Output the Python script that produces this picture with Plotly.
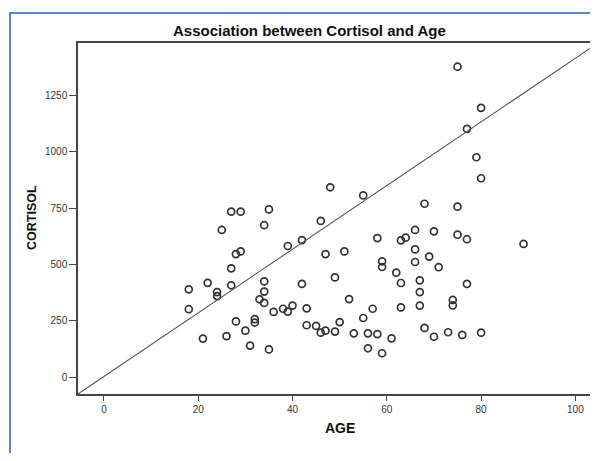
import plotly.graph_objects as go

# Data (AGE vs CORTISOL)
age = [48, 75, 80, 77, 79, 80, 55, 68, 75, 27, 29, 35, 25, 34, 46, 28, 29, 39, 42, 47,
       51, 27, 18, 22, 27, 24, 24, 34, 34, 33, 34, 42, 49, 52, 18, 28, 32, 32, 30, 36,
       38, 39, 40, 43, 43, 45, 46, 47, 49, 50, 21, 26, 31, 35, 58, 63, 64, 66, 70, 75,
       77, 89, 66, 69, 59, 59, 66, 71, 62, 63, 67, 67, 77, 57, 55, 63, 67, 74, 74, 53,
       56, 58, 61, 56, 59, 68, 70, 73, 76, 80]
cortisol = [842, 1376, 1194, 1101, 975, 882, 806, 769, 756, 734, 734, 744, 653, 674, 693,
            546, 558, 582, 608, 546, 558, 483, 390, 419, 408, 378, 360, 425, 380, 346,
            330, 414, 443, 347, 302, 248, 258, 243, 207, 290, 304, 291, 318, 306, 231,
            228, 198, 207, 203, 245, 172, 183, 141, 124, 617, 607, 619, 653, 647, 632,
            612, 591, 567, 535, 514, 489, 511, 488, 464, 418, 430, 378, 414, 304, 263,
            310, 318, 343, 319, 195, 195, 192, 173, 129, 107, 219, 180, 200, 188, 198]

x_ticks = [0, 20, 40, 60, 80, 100]
y_ticks = [0, 250, 500, 750, 1000, 1250]

title_text = "Association between Cortisol and Age"
x_title = "AGE"
y_title = "CORTISOL"

# page body has an 8px margin; keep the figure inside the viewport
OFF = 8
W, H = 598 - 2 * OFF, 461 - 2 * OFF
ML, MR, MT, MB = 78 - OFF, 0, 43 - OFF, H - (394 - OFF)
PW, PH = W - ML - MR, H - MT - MB

X_RANGE = [-5.5, 103.1]
Y_RANGE = [-73.5, 1481]
# diagonal reference line runs corner-to-corner of the full frame (x up to ~104.8)
X_FULL = 104.8
diag_x1 = X_RANGE[1]
diag_y1 = Y_RANGE[0] + (diag_x1 - X_RANGE[0]) * (Y_RANGE[1] - Y_RANGE[0]) / (X_FULL - X_RANGE[0])


def px(xp):
    return (xp - OFF - ML) / PW


def py(yp):
    return (H - MB - (yp - OFF)) / PH


fig = go.Figure()
fig.add_trace(go.Scatter(
    x=age, y=cortisol, mode="markers",
    marker=dict(symbol="circle-open", size=7, color="#333333",
                line=dict(width=1.7, color="#333333")),
    hoverinfo="x+y", showlegend=False,
))

fig.update_layout(
    width=W, height=H,
    margin=dict(l=ML, r=MR, t=MT, b=MB),
    paper_bgcolor="white", plot_bgcolor="white",
    font=dict(family="Liberation Sans, Arial, sans-serif", color="#222222"),
    xaxis=dict(range=X_RANGE, tickvals=x_ticks, ticks="outside", ticklen=5,
               tickcolor="#444444", tickwidth=1.3, showline=True, linecolor="#444444",
               linewidth=1.5, mirror=True, showgrid=False, zeroline=False,
               tickfont=dict(size=10, color="#333333")),
    yaxis=dict(range=Y_RANGE, tickvals=y_ticks, ticks="outside", ticklen=7,
               tickcolor="#444444", tickwidth=1.3, showline=True, linecolor="#444444",
               linewidth=1.5, mirror=False, showgrid=False, zeroline=False,
               tickfont=dict(size=10, color="#333333")),
    shapes=[
        dict(type="line", xref="x", yref="y", x0=X_RANGE[0], y0=Y_RANGE[0],
             x1=diag_x1, y1=diag_y1, line=dict(color="#555555", width=1.1)),
        dict(type="rect", xref="paper", yref="paper", x0=px(10), y0=-0.5,
             x1=1.3, y1=py(13), line=dict(color="#5585d8", width=2),
             fillcolor="rgba(0,0,0,0)", layer="below"),
    ],
    annotations=[
        dict(text="<b>%s</b>" % title_text, xref="paper", yref="paper",
             x=px(309), y=py(31), xanchor="center", yanchor="middle",
             showarrow=False, font=dict(size=15, color="#111111")),
        dict(text="<b>%s</b>" % y_title, xref="paper", yref="paper",
             x=px(32), y=py(218), xanchor="center", yanchor="middle",
             textangle=-90, showarrow=False, font=dict(size=12.5, color="#111111")),
        dict(text="<b>%s</b>" % x_title, xref="paper", yref="paper",
             x=px(340), y=py(428), xanchor="center", yanchor="middle",
             showarrow=False, font=dict(size=14, color="#111111")),
    ],
)

fig.write_html("out.html")
